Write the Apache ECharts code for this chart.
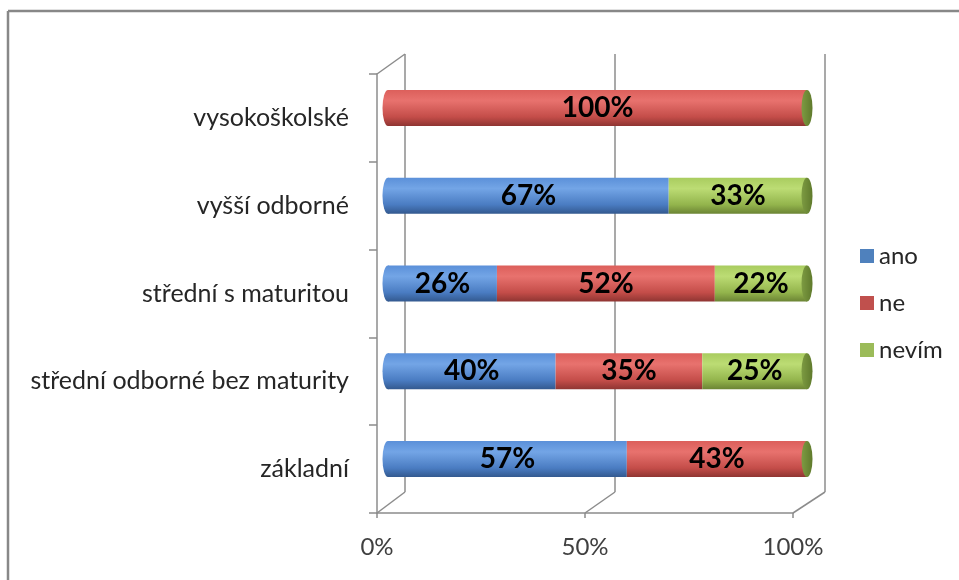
<!DOCTYPE html>
<html>
<head>
<meta charset="utf-8">
<script src="https://cdn.jsdelivr.net/npm/echarts@6/dist/echarts.min.js"></script>
<style>
  html, body { margin: 0; padding: 0; background: #fff; }
  #chart { width: 959px; height: 580px; }
</style>
</head>
<body>
<div id="chart"></div>
<script>
// data
const categories = ['základní', 'střední odborné bez maturity', 'střední s maturitou', 'vyšší odborné', 'vysokoškolské'];
const seriesNames = ['ano', 'ne', 'nevím'];
const ano = [57, 40, 26, 67, 0];
const ne = [43, 35, 52, 0, 100];
const nevim = [0, 25, 22, 33, 0];
const xTicks = [0, 50, 100];

const fontName = 'Lato';
const gray = '#8c8c8c';

// flat colours (legend) and cylinder shading
const flat = ['#4f81bd', '#c0504d', '#9bbb59'];
const shades = [
  ['#73a5e6', '#5b90d9', '#4a7cc2', '#33598f'],
  ['#e8726e', '#dc5f5b', '#c44d49', '#8f3532'],
  ['#bcdc74', '#a9cc5f', '#93b44c', '#6b8434']
];

function cyl(s) {
  return {
    type: 'linear', x: 0, y: 0, x2: 0, y2: 1,
    colorStops: [
      { offset: 0, color: s[1] },
      { offset: 0.3, color: s[0] },
      { offset: 0.75, color: s[2] },
      { offset: 1, color: s[3] }
    ]
  };
}

// layout of the fake 3d box
const front = { left: 377, top: 74, width: 416, height: 439 };
const back = { left: 405, top: 54, width: 420, height: 438 };
const bars = { left: 388, top: 64, width: 419, height: 439 };

const chart = echarts.init(document.getElementById('chart'));

const values = [ano, ne, nevim];
const barSeries = values.map((arr, k) => ({
  name: seriesNames[k],
  type: 'bar',
  stack: 'all',
  xAxisIndex: 2,
  yAxisIndex: 2,
  barWidth: 36,
  z: 2,
  itemStyle: { color: cyl(shades[k]) },
  label: {
    show: true,
    position: 'inside',
    fontFamily: fontName,
    fontWeight: 'bold',
    fontSize: 28,
    color: '#000',
    formatter: p => (p.value > 0 ? p.value + '%' : '')
  },
  data: arr
}));

// left end of each cylinder takes the colour of its first segment
const leftCaps = categories.map((c, i) => {
  let k = values.findIndex(a => a[i] > 0);
  return { value: [0, i], itemStyle: { color: cyl(shades[k]), opacity: 1 } };
});
const rightCaps = categories.map((c, i) => [100, i]);

// diagonal edges of the box
const diag = [];
xTicks.forEach(t => {
  diag.push({
    x1: front.left + front.width * t / 100, y1: front.top + front.height,
    x2: back.left + back.width * t / 100, y2: back.top + back.height
  });
});
diag.push({ x1: front.left, y1: front.top, x2: back.left, y2: back.top });

const option = {
  animation: false,
  textStyle: { fontFamily: fontName },
  grid: [
    Object.assign({ containLabel: false }, front),
    Object.assign({ containLabel: false }, back),
    Object.assign({ containLabel: false }, bars)
  ],
  legend: {
    orient: 'vertical',
    left: 855,
    top: 239,
    icon: 'rect',
    itemWidth: 14,
    itemHeight: 14,
    itemGap: 23,
    textStyle: { fontSize: 24, color: '#262626', fontFamily: fontName },
    data: seriesNames.map((n, k) => ({ name: n, itemStyle: { color: flat[k] } }))
  },
  xAxis: [
    {
      gridIndex: 0, type: 'value', min: 0, max: 100, interval: 50,
      axisLine: { show: true, lineStyle: { color: gray, width: 1.5 } },
      axisTick: { show: true, length: 5, lineStyle: { color: gray, width: 1.5 } },
      splitLine: { show: false },
      axisLabel: { fontSize: 24, color: '#404040', margin: 22, formatter: v => v + '%' }
    },
    {
      gridIndex: 1, type: 'value', min: 0, max: 100, interval: 50,
      axisLine: { show: false }, axisTick: { show: false }, axisLabel: { show: false },
      splitLine: { show: true, lineStyle: { color: gray, width: 1.5 } }
    },
    { gridIndex: 2, type: 'value', min: 0, max: 100, show: false }
  ],
  yAxis: [
    {
      gridIndex: 0, type: 'category', data: categories,
      axisLine: { show: true, lineStyle: { color: gray, width: 1.5 } },
      axisTick: { show: true, length: 8, lineStyle: { color: gray, width: 1.5 } },
      axisLabel: { fontSize: 25, color: '#262626', margin: 28 }
    },
    { gridIndex: 1, type: 'category', data: categories, show: false },
    { gridIndex: 2, type: 'category', data: categories, show: false }
  ],
  graphic: [
    { type: 'line', shape: { x1: 8, y1: 11, x2: 959, y2: 11 }, style: { stroke: '#888', lineWidth: 2.5 } },
    { type: 'line', shape: { x1: 8, y1: 11, x2: 8, y2: 580 }, style: { stroke: '#888', lineWidth: 2.5 } }
  ].concat(diag.map(s => ({
    type: 'line', z: -1, shape: s, style: { stroke: gray, lineWidth: 1.5 }
  }))),
  series: barSeries.concat([
    {
      type: 'scatter', xAxisIndex: 2, yAxisIndex: 2, z: 1,
      symbol: 'circle', symbolSize: [11, 36], silent: true,
      itemStyle: { opacity: 1 },
      data: leftCaps
    },
    {
      type: 'scatter', xAxisIndex: 2, yAxisIndex: 2, z: 3,
      symbol: 'circle', symbolSize: [11, 36], silent: true,
      itemStyle: {
        opacity: 1,
        color: {
          type: 'linear', x: 0, y: 0, x2: 1, y2: 0,
          colorStops: [{ offset: 0, color: '#7d9b42' }, { offset: 1, color: '#5f7a2c' }]
        }
      },
      data: rightCaps
    }
  ])
};

chart.setOption(option);
</script>
</body>
</html>
